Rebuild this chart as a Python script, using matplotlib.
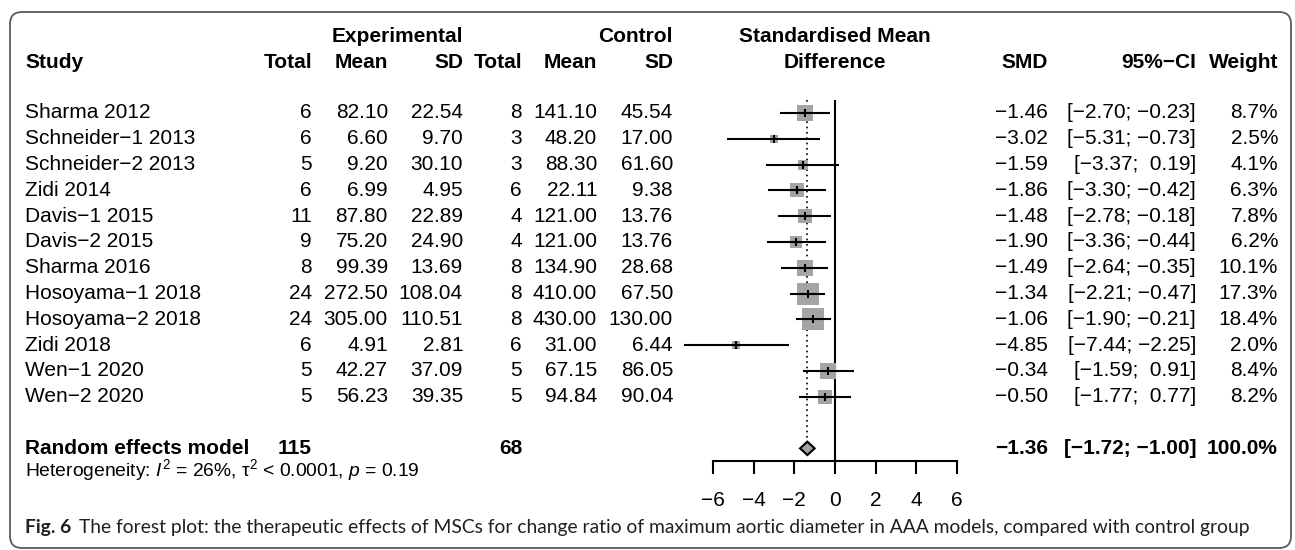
import numpy as np
import matplotlib
matplotlib.use("Agg")
import matplotlib.pyplot as plt
from matplotlib.transforms import blended_transform_factory
from matplotlib.patches import FancyBboxPatch, Polygon

plt.rcParams['font.family'] = ['Liberation Sans', 'DejaVu Sans']
plt.rcParams['mathtext.fontset'] = 'custom'
plt.rcParams['mathtext.rm'] = 'Liberation Sans'
plt.rcParams['mathtext.it'] = 'Liberation Sans:italic'
plt.rcParams['axes.unicode_minus'] = True

# ---- study data ----
studies = ["Sharma 2012", "Schneider\u22121 2013", "Schneider\u22122 2013", "Zidi 2014",
           "Davis\u22121 2015", "Davis\u22122 2015", "Sharma 2016", "Hosoyama\u22121 2018",
           "Hosoyama\u22122 2018", "Zidi 2018", "Wen\u22121 2020", "Wen\u22122 2020"]
exp_n = [6, 6, 5, 6, 11, 9, 8, 24, 24, 6, 5, 5]
exp_mean = [82.10, 6.60, 9.20, 6.99, 87.80, 75.20, 99.39, 272.50, 305.00, 4.91, 42.27, 56.23]
exp_sd = [22.54, 9.70, 30.10, 4.95, 22.89, 24.90, 13.69, 108.04, 110.51, 2.81, 37.09, 39.35]
ctl_n = [8, 3, 3, 6, 4, 4, 8, 8, 8, 6, 5, 5]
ctl_mean = [141.10, 48.20, 88.30, 22.11, 121.00, 121.00, 134.90, 410.00, 430.00, 31.00, 67.15, 94.84]
ctl_sd = [45.54, 17.00, 61.60, 9.38, 13.76, 13.76, 28.68, 67.50, 130.00, 6.44, 86.05, 90.04]
smd = [-1.46, -3.02, -1.59, -1.86, -1.48, -1.90, -1.49, -1.34, -1.06, -4.85, -0.34, -0.50]
ci_lo = [-2.70, -5.31, -3.37, -3.30, -2.78, -3.36, -2.64, -2.21, -1.90, -7.44, -1.59, -1.77]
ci_hi = [-0.23, -0.73, 0.19, -0.42, -0.18, -0.44, -0.35, -0.47, -0.21, -2.25, 0.91, 0.77]
weight = [8.7, 2.5, 4.1, 6.3, 7.8, 6.2, 10.1, 17.3, 18.4, 2.0, 8.4, 8.2]

# random effects summary
re_exp_n = 115
re_ctl_n = 68
re_smd = -1.36
re_lo = -1.72
re_hi = -1.00
re_weight = 100.0
het_text = r"Heterogeneity: $\mathit{I}^2$ = 26%, $\mathrm{\tau}^2$ < 0.0001, $\mathit{p}$ = 0.19"

x_ticks = [-6, -4, -2, 0, 2, 4, 6]
caption_bold = "Fig. 6"
caption_text = ("The forest plot: the therapeutic effects of MSCs for change ratio of maximum "
                "aortic diameter in AAA models, compared with control group")

MINUS = "\u2212"


def num(v, d=2):
    s = f"{v:.{d}f}"
    return s.replace("-", MINUS)


def ci_label(lo, hi):
    def pad(v):
        s = num(v)
        return s if v < 0 else " " + s
    return f"[{pad(lo)}; {pad(hi)}]"


# ---- figure layout (pixel based) ----
W, H = 1295, 550
fig = plt.figure(figsize=(W / 100, H / 100), dpi=100)
tab = fig.add_axes([0, 0, 1, 1])
tab.set_xlim(0, W)
tab.set_ylim(H, 0)
tab.axis('off')

n = len(studies)
sum_row = n + 1
het_row = sum_row + 0.85
axis_row = sum_row + 0.49
top_row = -0.5

px_left, px_right, px_top, px_bottom = 713, 957, 100, 461
forest = fig.add_axes([px_left / W, 1 - px_bottom / H,
                       (px_right - px_left) / W, (px_bottom - px_top) / H])
forest.set_xlim(x_ticks[0], x_ticks[-1])
forest.set_ylim(axis_row, top_row)
forest.patch.set_visible(False)
for s in ("left", "right", "top"):
    forest.spines[s].set_visible(False)
forest.spines["bottom"].set_bounds(x_ticks[0], x_ticks[-1])
forest.spines["bottom"].set_linewidth(1.5)
forest.set_yticks([])
forest.set_xticks(x_ticks)
forest.tick_params(axis='x', direction='out', length=9.5, width=1.5, pad=12,
                   labelsize=15, colors='black')

rows = np.arange(n)

# reference line at zero and dotted line at the pooled estimate
forest.plot([0, 0], [top_row, axis_row], color='black', lw=1.5, clip_on=False,
            solid_capstyle='butt')
dia_h = 0.26
forest.plot([re_smd, re_smd], [top_row, sum_row - dia_h], color='black', lw=1.2,
            ls=(0, (1, 2.2)), clip_on=False)

# study squares (area proportional to weight), CIs and estimate ticks
px_per_pt = 100 / 72
for r, m, lo, hi, w in zip(rows, smd, ci_lo, ci_hi, weight):
    side_px = 5.2 * np.sqrt(w)
    forest.plot([m], [r], marker='s', markersize=side_px / px_per_pt, color='#a4a4a4',
                markeredgewidth=0, clip_on=False, zorder=2)
    forest.plot([lo, hi], [r, r], color='black', lw=1.5, clip_on=False, zorder=3,
                solid_capstyle='butt')
    forest.plot([m], [r], marker='|', markersize=5.5, color='black',
                markeredgewidth=1.5, clip_on=False, zorder=4)

# pooled diamond
diamond = Polygon([(re_lo, sum_row), (re_smd, sum_row - dia_h),
                   (re_hi, sum_row), (re_smd, sum_row + dia_h)], closed=True,
                  facecolor='#a0a0a0', edgecolor='black', lw=1.5, clip_on=False, zorder=3)
forest.add_patch(diamond)

# ---- table text ----
trans = blended_transform_factory(tab.transData, forest.transData)
FS = 15
col_x = dict(study=25, en=312, em=388, esd=463, cn=522, cm=597, csd=673,
             smd=1048, ci=1196, w=1278)
h1, h2 = -2.95, -1.97


def txt(x, y, s, ha='right', bold=False, size=FS, tr=trans):
    tab.text(x, y, s, transform=tr, ha=ha, va='center', fontsize=size,
             fontweight='bold' if bold else 'normal', color='black', clip_on=False)


txt(col_x['esd'], h1, "Experimental", bold=True)
txt(col_x['csd'], h1, "Control", bold=True)
forest.text(0, h1, "Standardised Mean", ha='center', va='center', fontsize=FS,
            fontweight='bold', clip_on=False)
forest.text(0, h2, "Difference", ha='center', va='center', fontsize=FS,
            fontweight='bold', clip_on=False)
txt(col_x['study'], h2, "Study", ha='left', bold=True)
for key, lab in [('en', "Total"), ('em', "Mean"), ('esd', "SD"), ('cn', "Total"),
                 ('cm', "Mean"), ('csd', "SD"), ('smd', "SMD"), ('ci', "95%\u2212CI"),
                 ('w', "Weight")]:
    txt(col_x[key], h2, lab, bold=True)

for i in range(n):
    txt(col_x['study'], i, studies[i], ha='left')
    txt(col_x['en'], i, str(exp_n[i]))
    txt(col_x['em'], i, num(exp_mean[i]))
    txt(col_x['esd'], i, num(exp_sd[i]))
    txt(col_x['cn'], i, str(ctl_n[i]))
    txt(col_x['cm'], i, num(ctl_mean[i]))
    txt(col_x['csd'], i, num(ctl_sd[i]))
    txt(col_x['smd'], i, num(smd[i]))
    txt(col_x['ci'], i, ci_label(ci_lo[i], ci_hi[i]))
    txt(col_x['w'], i, f"{weight[i]:.1f}%")

txt(col_x['study'], sum_row, "Random effects model", ha='left', bold=True)
txt(col_x['en'], sum_row, str(re_exp_n), bold=True)
txt(col_x['cn'], sum_row, str(re_ctl_n), bold=True)
txt(col_x['smd'], sum_row, num(re_smd), bold=True)
txt(col_x['ci'], sum_row, ci_label(re_lo, re_hi), bold=True)
txt(col_x['w'], sum_row, f"{re_weight:.1f}%", bold=True)
txt(col_x['study'], het_row, het_text, ha='left', size=13.9)

# ---- frame and caption ----
frame = FancyBboxPatch((10, 12), 1281, 536, boxstyle="round,pad=0,rounding_size=12",
                       facecolor='none', edgecolor='#5a5a5a', lw=1.3, clip_on=False)
tab.add_patch(frame)

renderer = fig.canvas.get_renderer()
cap_y, cap_x0, cap_x1 = 527, 25, 1260
cfs = 13.0
cap_font = ['Lato', 'DejaVu Sans']
t1 = tab.text(cap_x0, cap_y, caption_bold, fontfamily=cap_font, fontweight='bold',
              fontsize=cfs, va='center', ha='left', color='#231f20')
t2 = tab.text(0, cap_y, caption_text, fontfamily=cap_font, fontsize=cfs,
              va='center', ha='left', color='#231f20')
for _ in range(3):
    b1 = t1.get_window_extent(renderer)
    t2.set_x(b1.x1 + 0.55 * cfs)
    b2 = t2.get_window_extent(renderer)
    scale = (cap_x1 - cap_x0) / (b2.x1 - b1.x0)
    cfs *= scale
    t1.set_fontsize(cfs)
    t2.set_fontsize(cfs)
b1 = t1.get_window_extent(renderer)
t2.set_x(b1.x1 + 0.55 * cfs)

fig.savefig("out.png", dpi=100)
